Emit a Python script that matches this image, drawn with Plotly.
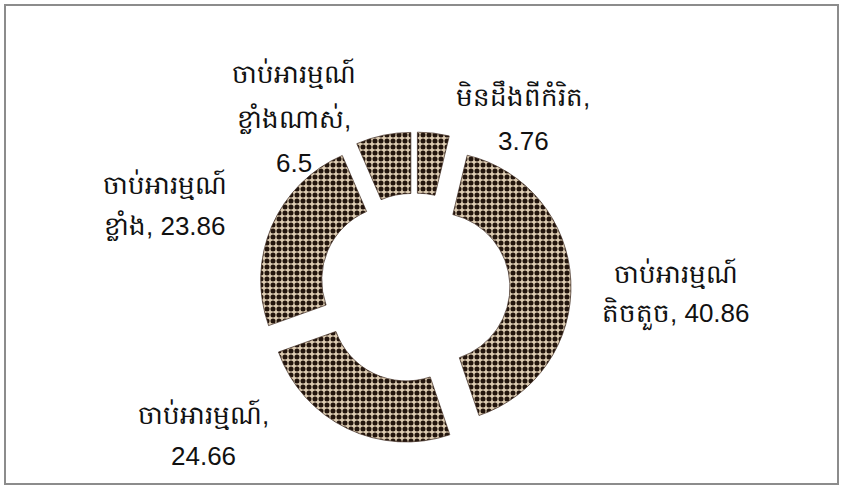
import plotly.graph_objects as go

labels = ["មិនដឹងពីកំរិត", "ចាប់អារម្មណ៍តិចតួច", "ចាប់អារម្មណ៍",
          "ចាប់អារម្មណ៍ខ្លាំង", "ចាប់អារម្មណ៍ខ្លាំងណាស់"]
values = [3.76, 40.86, 24.66, 23.86, 6.5]
# how each data label is broken into lines (label, value)
label_lines = [
    ["មិនដឹងពីកំរិត,", "3.76"],
    ["ចាប់អារម្មណ៍", "តិចតួច, 40.86"],
    ["ចាប់អារម្មណ៍,", "24.66"],
    ["ចាប់អារម្មណ៍", "ខ្លាំង, 23.86"],
    ["ចាប់អារម្មណ៍", "ខ្លាំងណាស់,", "6.5"],
]

W, H = 843, 489
# label placement (pixels): centre x and line centre ys
label_x = [523, 676, 203, 165, 294]
label_y = [[96, 141], [273, 314], [414, 456], [185, 226], [73, 119, 163]]

cx, cy, rad = 415, 288, 156

fig = go.Figure(go.Pie(
    labels=labels, values=values, sort=False, direction="clockwise", rotation=0,
    hole=0.55, pull=[0.15] * 5, textinfo="none", hoverinfo="label+value",
    marker=dict(colors=["#6e5a4a"] * 5,
                line=dict(color="rgba(60,40,30,0.7)", width=1),
                pattern=dict(shape=".", fgcolor="#23150d", bgcolor="#ddccb2",
                             size=6, solidity=0.55, fillmode="replace")),
    domain=dict(x=[(cx - rad) / W, (cx + rad) / W],
                y=[1 - (cy + rad) / H, 1 - (cy - rad) / H]),
    showlegend=False,
))

for lines, x, ys in zip(label_lines, label_x, label_y):
    for t, y in zip(lines, ys):
        fig.add_annotation(x=x / W, y=1 - y / H, xref="paper", yref="paper", text=t,
                           showarrow=False, xanchor="center", yanchor="middle",
                           font=dict(size=26, color="#111111",
                                     family="Liberation Sans, Arial, sans-serif"))

fig.add_shape(type="rect", xref="paper", yref="paper",
              x0=5 / W, x1=838 / W, y0=1 - 484 / H, y1=1 - 5 / H,
              line=dict(color="#8c8c8c", width=2), fillcolor="rgba(0,0,0,0)")

fig.update_layout(width=W, height=H, margin=dict(l=0, r=0, t=0, b=0),
                  paper_bgcolor="white", plot_bgcolor="white")
fig.write_html("out.html", config={"displayModeBar": False},
               post_script="document.body.style.margin='0';")
